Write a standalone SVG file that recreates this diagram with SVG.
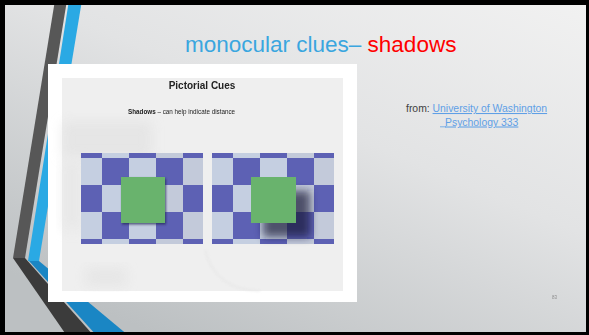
<svg xmlns="http://www.w3.org/2000/svg" width="589" height="335" viewBox="0 0 589 335">
  <defs>
    <linearGradient id="slideBg" x1="1" y1="0" x2="0.25" y2="1">
      <stop offset="0" stop-color="#f1f1f1"/>
      <stop offset="0.45" stop-color="#e2e3e4"/>
      <stop offset="1" stop-color="#bcc0c2"/>
    </linearGradient>
    <clipPath id="slideClip">
      <rect x="5" y="5" width="581" height="327"/>
    </clipPath>
    <filter id="soft" x="-30%" y="-30%" width="160%" height="160%">
      <feGaussianBlur stdDeviation="4"/>
    </filter>
    <filter id="haze" x="-30%" y="-30%" width="160%" height="160%">
      <feGaussianBlur stdDeviation="6"/>
    </filter>
    <filter id="tight" x="-20%" y="-20%" width="140%" height="140%">
      <feGaussianBlur stdDeviation="0.8"/>
    </filter>
    <!-- one checkerboard, reused for both panels -->
    <g id="board">
      <rect x="0" y="0" width="122" height="91" fill="#c5cfe1"/>
      <rect x="75" y="0" width="47" height="91" fill="#c2c6d4" opacity="0.5"/>
      <g fill="#5d61b4">
        <!-- top partial row -->
        <rect x="0" y="0" width="21" height="5"/>
        <rect x="48" y="0" width="27" height="5"/>
        <rect x="102" y="0" width="20" height="5"/>
        <!-- row 2 -->
        <rect x="21" y="5" width="27" height="27"/>
        <rect x="75" y="5" width="27" height="27"/>
        <!-- row 3 -->
        <rect x="0" y="32" width="21" height="27"/>
        <rect x="48" y="32" width="27" height="27"/>
        <rect x="102" y="32" width="20" height="27"/>
        <!-- row 4 -->
        <rect x="21" y="59" width="27" height="27"/>
        <rect x="75" y="59" width="27" height="27"/>
        <!-- bottom partial row -->
        <rect x="0" y="86" width="21" height="5"/>
        <rect x="48" y="86" width="27" height="5"/>
        <rect x="102" y="86" width="20" height="5"/>
      </g>
    </g>
  </defs>
  <style>
    .title { font-family: "Liberation Sans", Arial, sans-serif; font-size: 22.5px; }
    .src { font-family: "Liberation Sans", Arial, sans-serif; font-size: 10.4px; }
    .link { fill: #5f9fe6; text-decoration: underline; }
    .cap { font-family: "Liberation Sans", Arial, sans-serif; fill: #222222; }
  </style>

  <!-- slide frame and background -->
  <rect x="0" y="0" width="589" height="335" fill="#000000"/>
  <rect x="5" y="5" width="581" height="327" fill="url(#slideBg)"/>

  <!-- left-hand chevron bands -->
  <g id="chevron" clip-path="url(#slideClip)">
    <polygon points="55,0 67,0 25,258 13,258" fill="#575757"/>
    <polygon points="13,258 25,258 94,336 67,336" fill="#3b3b3b"/>
    <polygon points="69,0 82,0 39,261 28,261" fill="#2aa9e4"/>
    <polygon points="29,261 39,261 129,336 97,336" fill="#1a86c4"/>
  </g>

  <!-- title -->
  <g id="title">
    <text class="title" x="185" y="52"><tspan fill="#3aa6df">monocular clues– </tspan><tspan fill="#ff0000">shadows</tspan></text>
  </g>

  <!-- source reference -->
  <g id="source">
    <text class="src" x="406" y="112"><tspan fill="#404040">from: </tspan><tspan class="link">University of Washington</tspan></text>
    <line x1="440" y1="126.8" x2="446" y2="126.8" stroke="#5f9fe6" stroke-width="0.8"/>
    <text class="src link" x="445" y="125.5">Psychology 333</text>
  </g>

  <!-- picture panel -->
  <g id="picture">
    <rect x="48" y="64" width="309" height="238" fill="#ffffff"/>
    <rect x="62" y="78" width="281" height="213" fill="#efefef"/>
    <g opacity="0.5">
      <rect x="62" y="122" width="90" height="36" fill="#dcdcdc" filter="url(#haze)"/>
      <rect x="62" y="160" width="20" height="70" fill="#e2e2e2" filter="url(#haze)"/>
      <rect x="86" y="268" width="40" height="18" fill="#dedede" filter="url(#haze)"/>
      <path d="M205,250 Q215,290 260,291" fill="none" stroke="#e4e4e4" stroke-width="2" filter="url(#tight)"/>
    </g>

    <text class="cap" x="202" y="89" font-size="10" font-weight="bold" text-anchor="middle">Pictorial Cues</text>
    <text class="cap" x="128" y="114" font-size="6.3" fill="#444444"><tspan font-weight="bold" fill="#222222">Shadows</tspan> – can help indicate distance</text>

    <!-- left panel: square lying close to the board -->
    <g id="boardLeft">
      <use href="#board" x="81" y="153"/>
      <rect x="122" y="178.5" width="44" height="46" fill="#1e2150" opacity="0.7" filter="url(#tight)"/>
      <rect x="121" y="177" width="44" height="46" fill="#69b36d"/>
    </g>

    <!-- right panel: square floating above the board -->
    <g id="boardRight">
      <use href="#board" x="212" y="153"/>
      <rect x="263" y="191" width="47" height="46" fill="#141634" opacity="0.68" filter="url(#soft)"/>
      <rect x="251" y="177" width="45" height="46" fill="#69b36d"/>
    </g>
  </g>

  <!-- slide number -->
  <text x="552" y="299" font-family="Liberation Sans, Arial, sans-serif" font-size="4.5" fill="#8c8c8c">83</text>
</svg>
